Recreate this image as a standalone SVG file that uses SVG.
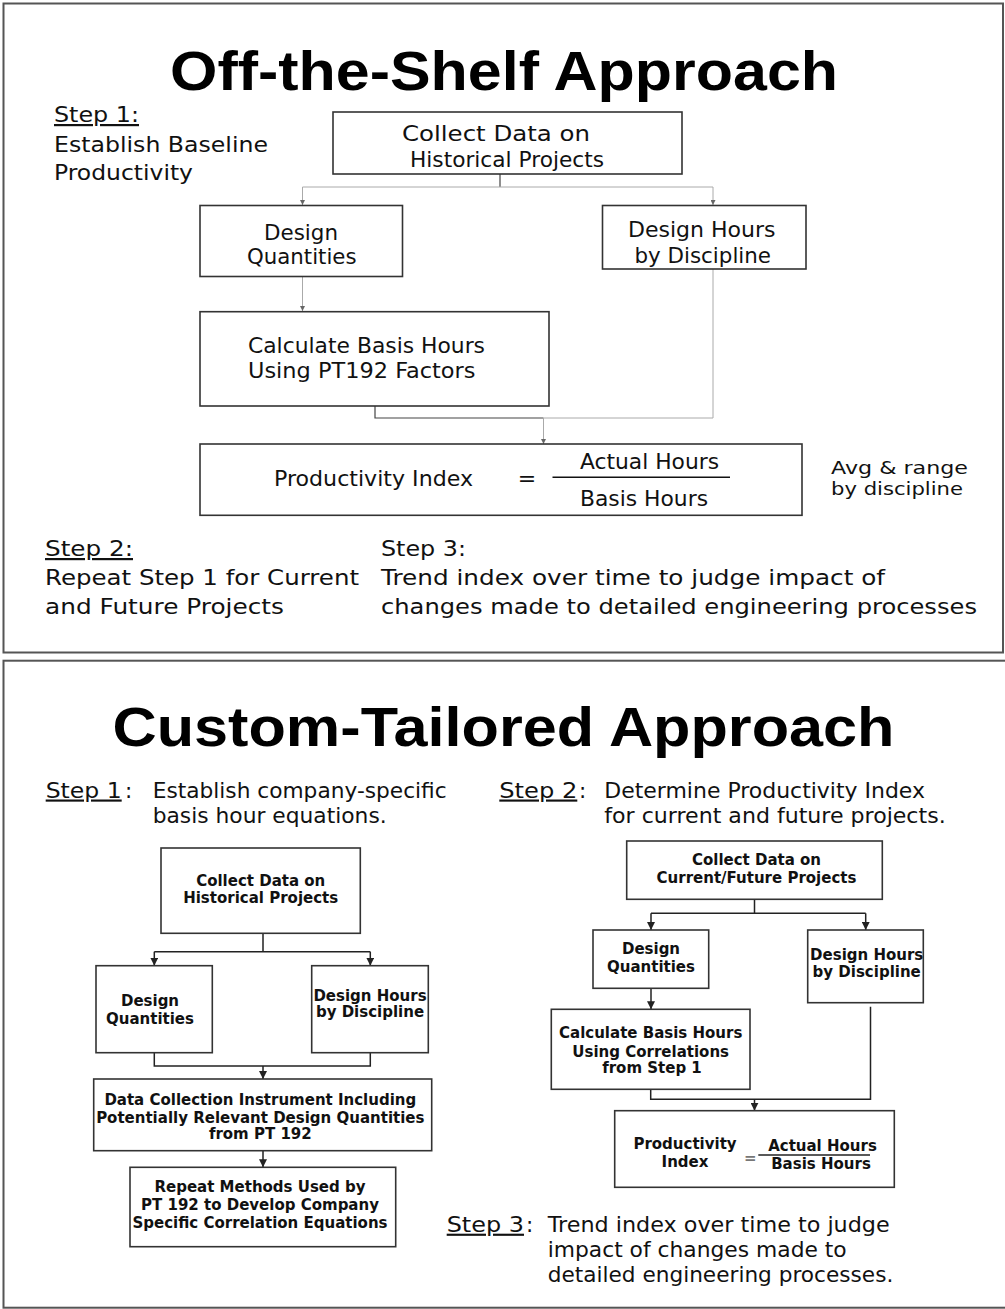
<svg xmlns="http://www.w3.org/2000/svg" width="1005" height="1309" viewBox="0 0 1005 1309">
  <style>
    .frame { fill: #fff; stroke: #555; stroke-width: 2; }
    .box { fill: #fff; stroke: #333; stroke-width: 1.6; }
    .title { font-family: "Liberation Sans", Arial, sans-serif; font-weight: bold; font-size: 55px; fill: #000; }
    .tt { font-family: "DejaVu Sans", Verdana, sans-serif; font-size: 22px; fill: #111; }
    .sm { font-family: "DejaVu Sans", Verdana, sans-serif; font-size: 17.5px; fill: #111; }
    .bt { font-family: "DejaVu Sans", Verdana, sans-serif; font-size: 21.5px; fill: #111; }
    .bb { font-family: "DejaVu Sans", Verdana, sans-serif; font-weight: bold; font-size: 15px; fill: #111; text-anchor: middle; }
    .u { text-decoration: underline; }
    .lite { fill: none; stroke: #aaa; stroke-width: 1; }
    .dark { fill: none; stroke: #444; stroke-width: 1.2; }
    .blk { fill: none; stroke: #222; stroke-width: 1.5; }
  </style>
  <defs>
    <marker id="ah-s" markerUnits="userSpaceOnUse" viewBox="0 0 8 8" refX="8" refY="4" markerWidth="5" markerHeight="5" orient="auto">
      <path d="M0,0 L8,4 L0,8 z" fill="#666"/>
    </marker>
    <marker id="ah" markerUnits="userSpaceOnUse" viewBox="0 0 8 8" refX="8" refY="4" markerWidth="8" markerHeight="8" orient="auto">
      <path d="M0,0 L8,4 L0,8 z" fill="#222"/>
    </marker>
  </defs>

  <rect width="1005" height="1309" fill="#fff"/>

  <!-- upper panel -->
  <g id="panel-off-the-shelf">
    <rect class="frame" x="3.5" y="3.5" width="999.5" height="649"/>
    <text class="title" x="170" y="90" textLength="668" lengthAdjust="spacingAndGlyphs">Off-the-Shelf Approach</text>
    <g id="step1-label">
      <text class="tt u" x="54" y="122" textLength="85" lengthAdjust="spacingAndGlyphs">Step 1:</text>
      <text class="tt" x="54" y="152" textLength="214" lengthAdjust="spacingAndGlyphs">Establish Baseline</text>
      <text class="tt" x="54" y="180" textLength="139" lengthAdjust="spacingAndGlyphs">Productivity</text>
    </g>
    <g id="step2-label">
      <text class="tt u" x="45" y="556" textLength="88" lengthAdjust="spacingAndGlyphs">Step 2:</text>
      <text class="tt" x="45" y="585" textLength="314" lengthAdjust="spacingAndGlyphs">Repeat Step 1 for Current</text>
      <text class="tt" x="45" y="614" textLength="239" lengthAdjust="spacingAndGlyphs">and Future Projects</text>
    </g>
    <g id="step3-label">
      <text class="tt" x="381" y="556" textLength="85" lengthAdjust="spacingAndGlyphs">Step 3:</text>
      <text class="tt" x="381" y="585" textLength="504" lengthAdjust="spacingAndGlyphs">Trend index over time to judge impact of</text>
      <text class="tt" x="381" y="614" textLength="596" lengthAdjust="spacingAndGlyphs">changes made to detailed engineering processes</text>
    </g>
    <g id="avg-note">
      <text class="sm" x="831" y="474" textLength="137" lengthAdjust="spacingAndGlyphs">Avg &amp; range</text>
      <text class="sm" x="831" y="495" textLength="132" lengthAdjust="spacingAndGlyphs">by discipline</text>
    </g>
  </g>

  <g id="top-connectors">
    <path class="dark" d="M500,174 V187"/>
    <path class="lite" d="M302.5,187 H713"/>
    <path class="lite" d="M302.5,187 V205" marker-end="url(#ah-s)"/>
    <path class="lite" d="M713,187 V205" marker-end="url(#ah-s)"/>
    <path class="lite" d="M302.5,277 V311" marker-end="url(#ah-s)"/>
    <path class="dark" d="M375,406 V418 H543.5"/>
    <path class="lite" d="M713,269 V418 H543.5"/>
    <path class="lite" d="M543.5,418 V444" marker-end="url(#ah-s)"/>
  </g>

  <g id="top-collect">
    <rect class="box" x="333" y="112" width="349" height="62"/>
    <text class="tt" x="402" y="141" textLength="188" lengthAdjust="spacingAndGlyphs">Collect Data on</text>
    <text class="tt" x="410" y="167" textLength="194" lengthAdjust="spacingAndGlyphs">Historical Projects</text>
  </g>
  <g id="top-quantities">
    <rect class="box" x="200" y="205.5" width="202.5" height="71"/>
    <text class="tt" x="264" y="239.5" textLength="74" lengthAdjust="spacingAndGlyphs">Design</text>
    <text class="tt" x="247" y="264" textLength="109.5" lengthAdjust="spacingAndGlyphs">Quantities</text>
  </g>
  <g id="top-hours">
    <rect class="box" x="602.5" y="205.5" width="203.5" height="63.5"/>
    <text class="tt" x="628" y="237" textLength="147.5" lengthAdjust="spacingAndGlyphs">Design Hours</text>
    <text class="tt" x="634.5" y="263" textLength="136.5" lengthAdjust="spacingAndGlyphs">by Discipline</text>
  </g>
  <g id="top-calculate">
    <rect class="box" x="200" y="311.7" width="349" height="94.3"/>
    <text class="tt" x="248" y="353" textLength="237" lengthAdjust="spacingAndGlyphs">Calculate Basis Hours</text>
    <text class="tt" x="248" y="378" textLength="227.5" lengthAdjust="spacingAndGlyphs">Using PT192 Factors</text>
  </g>
  <g id="top-index">
    <rect class="box" x="200" y="444" width="602" height="71.3"/>
    <text class="tt" x="274" y="486" textLength="199" lengthAdjust="spacingAndGlyphs">Productivity Index</text>
    <text class="tt" x="527" y="486" text-anchor="middle">=</text>
    <line x1="552.5" y1="477.3" x2="730" y2="477.3" stroke="#111" stroke-width="1.5"/>
    <text class="tt" x="580" y="469.3" textLength="139" lengthAdjust="spacingAndGlyphs">Actual Hours</text>
    <text class="tt" x="580" y="505.5" textLength="128" lengthAdjust="spacingAndGlyphs">Basis Hours</text>
  </g>

  <!-- lower panel -->
  <g id="panel-custom">
    <rect class="frame" x="3.5" y="660.7" width="1010" height="647"/>
    <text class="title" x="112.5" y="746" textLength="782" lengthAdjust="spacingAndGlyphs">Custom-Tailored Approach</text>
    <g id="b-step1-label">
      <text class="bt u" x="45.7" y="797.5" textLength="76" lengthAdjust="spacingAndGlyphs">Step 1</text>
      <text class="bt" x="125" y="797.5">:</text>
      <text class="bt" x="152.7" y="797.5" textLength="294" lengthAdjust="spacingAndGlyphs">Establish company-specific</text>
      <text class="bt" x="152.7" y="823.3" textLength="234" lengthAdjust="spacingAndGlyphs">basis hour equations.</text>
    </g>
    <g id="b-step2-label">
      <text class="bt u" x="499.3" y="797.5" textLength="78" lengthAdjust="spacingAndGlyphs">Step 2</text>
      <text class="bt" x="579" y="797.5">:</text>
      <text class="bt" x="604.3" y="797.5" textLength="320.7" lengthAdjust="spacingAndGlyphs">Determine Productivity Index</text>
      <text class="bt" x="604.3" y="823.3" textLength="341.4" lengthAdjust="spacingAndGlyphs">for current and future projects.</text>
    </g>
    <g id="b-step3-label">
      <text class="bt u" x="446.7" y="1231.7" textLength="77.3" lengthAdjust="spacingAndGlyphs">Step 3</text>
      <text class="bt" x="526" y="1231.7">:</text>
      <text class="bt" x="547.7" y="1231.7" textLength="342" lengthAdjust="spacingAndGlyphs">Trend index over time to judge</text>
      <text class="bt" x="547.7" y="1257.2" textLength="299" lengthAdjust="spacingAndGlyphs">impact of changes made to</text>
      <text class="bt" x="547.7" y="1282.3" textLength="345.6" lengthAdjust="spacingAndGlyphs">detailed engineering processes.</text>
    </g>
  </g>

  <g id="bottom-connectors">
    <path class="blk" d="M263,933.3 V951.7 M154.3,951.7 H370.3"/>
    <path class="blk" d="M154.3,951.7 V965.7" marker-end="url(#ah)"/>
    <path class="blk" d="M370.3,951.7 V965.7" marker-end="url(#ah)"/>
    <path class="blk" d="M154.3,1052.7 V1066 H370.3 V1052.7"/>
    <path class="blk" d="M263,1066 V1079" marker-end="url(#ah)"/>
    <path class="blk" d="M263,1150.7 V1167.3" marker-end="url(#ah)"/>
    <path class="blk" d="M754.5,899.3 V913.3 M651,913.3 H865.7"/>
    <path class="blk" d="M651,913.3 V930" marker-end="url(#ah)"/>
    <path class="blk" d="M865.7,913.3 V930" marker-end="url(#ah)"/>
    <path class="blk" d="M651,988.3 V1009.3" marker-end="url(#ah)"/>
    <path class="blk" d="M650.7,1089.3 V1099.3 H870.5 V1006.7"/>
    <path class="blk" d="M754.5,1099.3 V1110.7" marker-end="url(#ah)"/>
  </g>

  <g id="b-collect-hist">
    <rect class="box" x="161" y="848" width="199.3" height="85.3"/>
    <text class="bb" x="260.7" y="885.7">Collect Data on</text>
    <text class="bb" x="260.7" y="903">Historical Projects</text>
  </g>
  <g id="b-quantities">
    <rect class="box" x="96" y="965.7" width="116.3" height="87"/>
    <text class="bb" x="150" y="1006">Design</text>
    <text class="bb" x="150" y="1024">Quantities</text>
  </g>
  <g id="b-hours">
    <rect class="box" x="311.7" y="965.7" width="116.6" height="87"/>
    <text class="bb" x="370" y="1000.7">Design Hours</text>
    <text class="bb" x="370" y="1017.3">by Discipline</text>
  </g>
  <g id="b-instrument">
    <rect class="box" x="93.7" y="1079" width="338" height="71.7"/>
    <text class="bb" x="260.3" y="1105">Data Collection Instrument Including</text>
    <text class="bb" x="260.3" y="1122.7">Potentially Relevant Design Quantities</text>
    <text class="bb" x="260.3" y="1139.3">from PT 192</text>
  </g>
  <g id="b-repeat">
    <rect class="box" x="130" y="1167.3" width="265.7" height="79.4"/>
    <text class="bb" x="260" y="1192.3">Repeat Methods Used by</text>
    <text class="bb" x="260" y="1210">PT 192 to Develop Company</text>
    <text class="bb" x="260" y="1227.7">Specific Correlation Equations</text>
  </g>
  <g id="b-collect-current">
    <rect class="box" x="626.7" y="841" width="255.6" height="58.3"/>
    <text class="bb" x="756.5" y="865">Collect Data on</text>
    <text class="bb" x="756.5" y="882.7">Current/Future Projects</text>
  </g>
  <g id="b-quantities-2">
    <rect class="box" x="593" y="930" width="115.7" height="58.3"/>
    <text class="bb" x="651" y="954">Design</text>
    <text class="bb" x="651" y="971.7">Quantities</text>
  </g>
  <g id="b-hours-2">
    <rect class="box" x="807.7" y="930" width="115.6" height="72.7"/>
    <text class="bb" x="866.7" y="960">Design Hours</text>
    <text class="bb" x="866.7" y="976.7">by Discipline</text>
  </g>
  <g id="b-calculate-2">
    <rect class="box" x="551.3" y="1009.3" width="198.7" height="80"/>
    <text class="bb" x="650.7" y="1038.3">Calculate Basis Hours</text>
    <text class="bb" x="650.7" y="1056.7">Using Correlations</text>
    <text class="bb" x="652" y="1073.3">from Step 1</text>
  </g>
  <g id="b-index-2">
    <rect class="box" x="614.7" y="1110.7" width="279.6" height="76.6"/>
    <text class="bb" x="685" y="1149">Productivity</text>
    <text class="bb" x="685" y="1166.7">Index</text>
    <text class="bb" x="750.3" y="1163" style="fill:#777">=</text>
    <line x1="758.3" y1="1155" x2="870" y2="1155" stroke="#222" stroke-width="1.3"/>
    <text class="bb" x="822.5" y="1150.7">Actual Hours</text>
    <text class="bb" x="821" y="1169.3">Basis Hours</text>
  </g>
</svg>
